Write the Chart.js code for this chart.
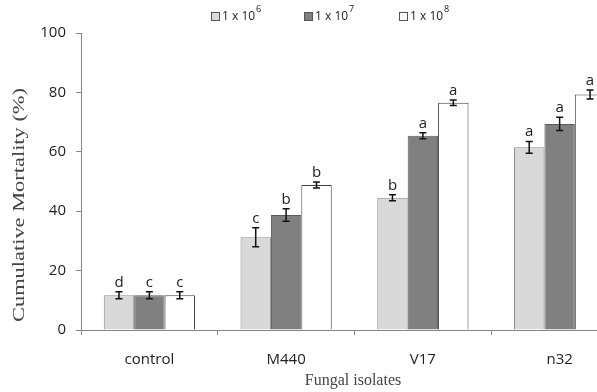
<!DOCTYPE html>
<html>
<head>
<meta charset="utf-8">
<script src="https://cdn.jsdelivr.net/npm/chart.js@4"></script>
<style>
  body { margin: 0; background: #fff; }
  #clip { width: 597px; height: 392px; overflow: hidden; }
  #wrap { width: 631px; height: 392px; }
</style>
</head>
<body>
<div id="clip"><div id="wrap"><canvas id="mortChart"></canvas></div></div>
<script>
// 菌株ごとの累積死亡率
const isolates = ["control", "M440", "V17", "n32"];
const doseLabels = ["1 x 10", "1 x 10", "1 x 10"];
const doseExp = ["6", "7", "8"];
const dose6 = [11.7, 31.2, 44.5, 61.5];
const dose7 = [11.7, 38.7, 65.4, 69.4];
const dose8 = [11.7, 48.8, 76.5, 79.3];
const err6 = [1.2, 3.2, 1.0, 2.0];
const err7 = [1.2, 2.1, 1.0, 2.2];
const err8 = [1.2, 1.0, 0.9, 1.5];
const letters6 = ["d", "c", "b", "a"];
const letters7 = ["c", "b", "a", "a"];
const letters8 = ["c", "b", "a", "a"];
const yTicks = [0, 20, 40, 60, 80, 100];

const errs = [err6, err7, err8];
const letters = [letters6, letters7, letters8];
const fills = ["#d9d9d9", "#808080", "#ffffff"];
const edges = ["#8c8c8c", "#595959", "#404040"];

// エラーバーと有意差の文字
const errorBarPlugin = {
  id: "errorBars",
  afterDatasetsDraw(chart) {
    const ctx = chart.ctx;
    const y = chart.scales.y;
    ctx.save();
    chart.data.datasets.forEach((ds, di) => {
      const meta = chart.getDatasetMeta(di);
      meta.data.forEach((bar, i) => {
        const v = ds.data[i];
        const e = errs[di][i];
        const top = y.getPixelForValue(v + e);
        const bot = y.getPixelForValue(v - e);
        ctx.strokeStyle = "#111";
        ctx.lineWidth = 1.5;
        ctx.beginPath();
        ctx.moveTo(bar.x, top);
        ctx.lineTo(bar.x, bot);
        ctx.moveTo(bar.x - 3.5, top);
        ctx.lineTo(bar.x + 3.5, top);
        ctx.moveTo(bar.x - 3.5, bot);
        ctx.lineTo(bar.x + 3.5, bot);
        ctx.stroke();
        ctx.fillStyle = "#222";
        ctx.font = "15px 'Open Sans', sans-serif";
        ctx.textAlign = "center";
        ctx.textBaseline = "alphabetic";
        ctx.fillText(letters[di][i], bar.x, top - 5);
      });
    });
    ctx.restore();
  }
};

// 凡例と軸タイトル
const decorPlugin = {
  id: "decor",
  afterDraw(chart) {
    const ctx = chart.ctx;
    ctx.save();
    const xs = [211, 304, 399];
    xs.forEach((x, i) => {
      ctx.fillStyle = fills[i];
      ctx.strokeStyle = "#555";
      ctx.lineWidth = 1;
      ctx.fillRect(x + 0.5, 12.5, 8, 8);
      ctx.strokeRect(x + 0.5, 12.5, 8, 8);
      ctx.fillStyle = "#222";
      ctx.font = "12px 'Open Sans', sans-serif";
      ctx.textAlign = "left";
      ctx.textBaseline = "middle";
      ctx.fillText(doseLabels[i], x + 11, 17);
      const w = ctx.measureText(doseLabels[i]).width;
      ctx.font = "9px 'Open Sans', sans-serif";
      ctx.fillText(doseExp[i], x + 12 + w, 9);
    });
    ctx.fillStyle = "#444";
    ctx.font = "16px 'Liberation Serif', serif";
    ctx.textAlign = "center";
    ctx.textBaseline = "middle";
    ctx.fillText("Fungal isolates", 353, 381);
    ctx.translate(20, 205);
    ctx.rotate(-Math.PI / 2);
    ctx.scale(1.4, 1);
    ctx.fillText("Cumulative Mortality (%)", 0, 0);
    ctx.restore();
  }
};

const mortChartConfig = {
  type: "bar",
  data: {
    labels: isolates,
    datasets: [dose6, dose7, dose8].map((d, i) => ({
      label: doseLabels[i] + doseExp[i],
      data: d,
      backgroundColor: fills[i],
      borderColor: edges[i],
      borderWidth: 1,
      barPercentage: 1,
      categoryPercentage: 0.667,
    })),
  },
  options: {
    responsive: true,
    maintainAspectRatio: false,
    animation: false,
    layout: { padding: { top: 33, right: 3, left: 0, bottom: 0 } },
    plugins: {
      legend: { display: false },
      tooltip: { enabled: false },
    },
    scales: {
      x: {
        afterFit(scale) { scale.height = 62; },
        grid: {
          offset: true,
          drawOnChartArea: false,
          color: "#868686",
          tickLength: 5,
        },
        border: { color: "#868686", width: 1 },
        ticks: {
          color: "#222",
          font: { family: "'Open Sans', sans-serif", size: 15 },
          padding: 16,
        },
      },
      y: {
        min: 0,
        max: 100,
        afterFit(scale) { scale.width = 81; },
        afterBuildTicks(scale) { scale.ticks = yTicks.map(v => ({ value: v })); },
        grid: {
          drawOnChartArea: false,
          color: "#868686",
          tickLength: 5,
        },
        border: { color: "#868686", width: 1 },
        ticks: {
          color: "#222",
          font: { family: "'Open Sans', sans-serif", size: 15 },
          padding: 10,
        },
      },
    },
  },
  plugins: [errorBarPlugin, decorPlugin],
};

document.addEventListener("DOMContentLoaded", () => {
  const mortChart = new Chart("mortChart", mortChartConfig);
});
</script>
</body>
</html>
